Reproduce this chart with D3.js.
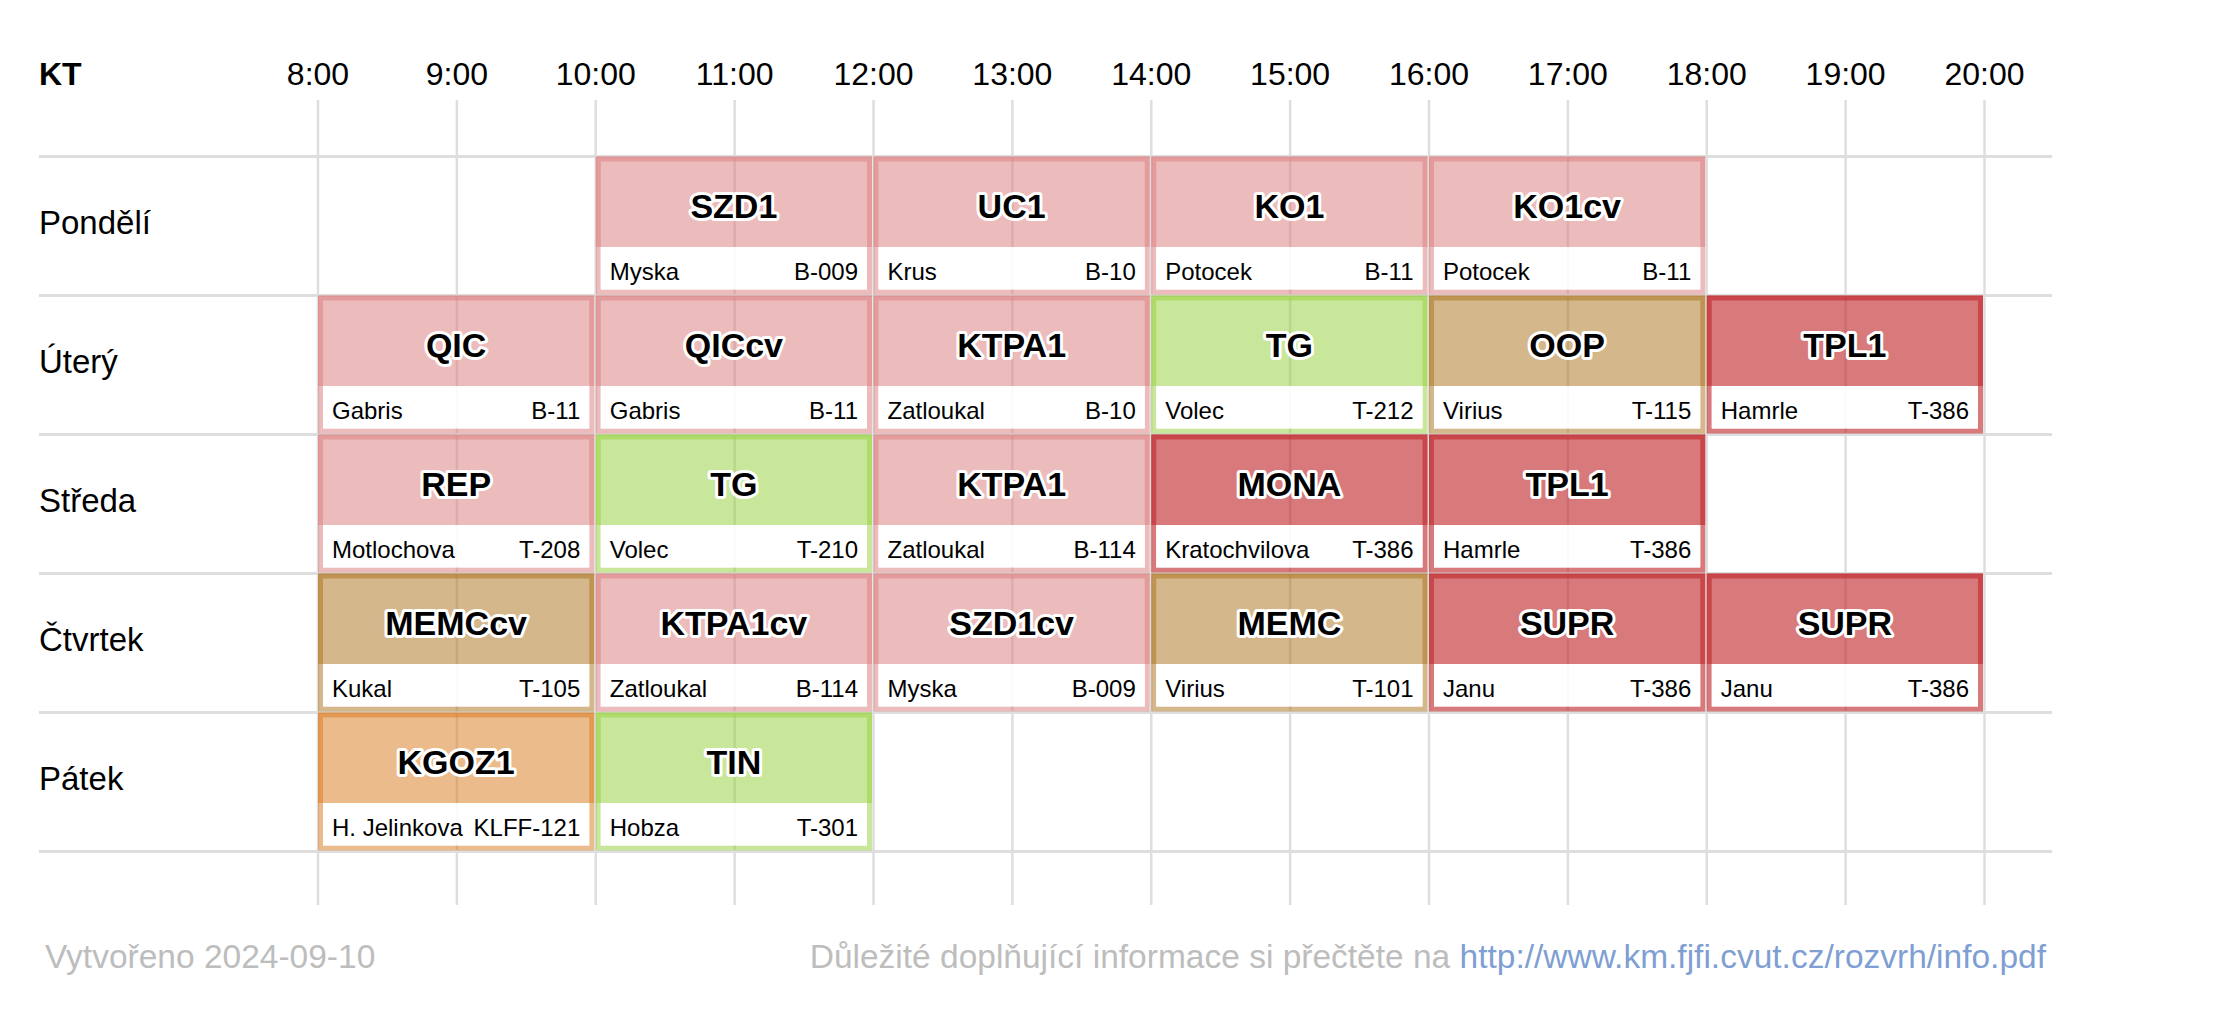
<!DOCTYPE html>
<html>
<head>
<meta charset="utf-8">
<script src="https://cdn.jsdelivr.net/npm/d3@7"></script>
<style>
  html, body { margin: 0; padding: 0; background: #ffffff; }
  svg { display: block; font-family: "Liberation Sans", Arial, Helvetica, sans-serif; }
</style>
</head>
<body>
<svg id="chart" width="2222" height="1011"></svg>
<script>
// ---- data ----
const cornerLabel = "KT";
const days = ["Pondělí", "Úterý", "Středa", "Čtvrtek", "Pátek"];
const hours = [8, 9, 10, 11, 12, 13, 14, 15, 16, 17, 18, 19, 20];
const hourLabels = ["8:00", "9:00", "10:00", "11:00", "12:00", "13:00", "14:00", "15:00", "16:00", "17:00", "18:00", "19:00", "20:00"];

const courseCode    = ["SZD1", "UC1", "KO1", "KO1cv",
                       "QIC", "QICcv", "KTPA1", "TG", "OOP", "TPL1",
                       "REP", "TG", "KTPA1", "MONA", "TPL1",
                       "MEMCcv", "KTPA1cv", "SZD1cv", "MEMC", "SUPR", "SUPR",
                       "KGOZ1", "TIN"];
const courseDay     = [0, 0, 0, 0,
                       1, 1, 1, 1, 1, 1,
                       2, 2, 2, 2, 2,
                       3, 3, 3, 3, 3, 3,
                       4, 4];
const courseStart   = [10, 12, 14, 16,
                       8, 10, 12, 14, 16, 18,
                       8, 10, 12, 14, 16,
                       8, 10, 12, 14, 16, 18,
                       8, 10];
const courseEnd     = [12, 14, 16, 18,
                       10, 12, 14, 16, 18, 20,
                       10, 12, 14, 16, 18,
                       10, 12, 14, 16, 18, 20,
                       10, 12];
const courseTeacher = ["Myska", "Krus", "Potocek", "Potocek",
                       "Gabris", "Gabris", "Zatloukal", "Volec", "Virius", "Hamrle",
                       "Motlochova", "Volec", "Zatloukal", "Kratochvilova", "Hamrle",
                       "Kukal", "Zatloukal", "Myska", "Virius", "Janu", "Janu",
                       "H. Jelinkova", "Hobza"];
const courseRoom    = ["B-009", "B-10", "B-11", "B-11",
                       "B-11", "B-11", "B-10", "T-212", "T-115", "T-386",
                       "T-208", "T-210", "B-114", "T-386", "T-386",
                       "T-105", "B-114", "B-009", "T-101", "T-386", "T-386",
                       "KLFF-121", "T-301"];
const courseKind    = ["pink", "pink", "pink", "pink",
                       "pink", "pink", "pink", "green", "tan", "red",
                       "pink", "green", "pink", "red", "red",
                       "tan", "pink", "pink", "tan", "red", "red",
                       "orange", "green"];

const kinds = ["pink", "green", "tan", "red", "orange"];
const kindColors = ["#d9797b", "#93cf37", "#ad7420", "#c0282b", "#d97719"];
const kindAlpha = [0.5, 0.5, 0.52, 0.62, 0.5];

const footerLeft = "Vytvořeno 2024-09-10";
const footerRight = "Důležité doplňující informace si přečtěte na ";
const footerLink = "http://www.km.fjfi.cvut.cz/rozvrh/info.pdf";

// ---- layout ----
const svg = d3.select("#chart");
const x = d3.scaleLinear().domain([8, 20]).range([318, 1984.5]);
const rowTop = 156.5, rowH = 139;
const y = d3.scaleBand().domain(d3.range(days.length)).range([rowTop, rowTop + rowH * days.length]).paddingInner(0).paddingOuter(0);
const color = d3.scaleOrdinal().domain(kinds).range(kindColors);
const opac = d3.scaleOrdinal().domain(kinds).range(kindAlpha);
const gridColor = "#dedede";
const bw = 5; // border width
const bandH = 90.5;

// horizontal grid lines
const hLines = d3.range(days.length + 1);
svg.append("g").selectAll("line").data(hLines).join("line")
  .attr("x1", 39).attr("x2", 2052)
  .attr("y1", d => rowTop + d * y.bandwidth())
  .attr("y2", d => rowTop + d * y.bandwidth())
  .attr("stroke", gridColor).attr("stroke-width", 3);

// vertical grid lines
svg.append("g").selectAll("line").data(hours).join("line")
  .attr("x1", d => x(d)).attr("x2", d => x(d))
  .attr("y1", 100).attr("y2", 905)
  .attr("stroke", gridColor).attr("stroke-width", 2.5);

// header
svg.append("text").attr("x", 39).attr("y", 85)
  .attr("font-size", 32).attr("font-weight", "bold").attr("fill", "#000")
  .text(cornerLabel);
svg.append("g").selectAll("text").data(hours).join("text")
  .attr("x", d => x(d)).attr("y", 85)
  .attr("text-anchor", "middle").attr("font-size", 32).attr("fill", "#000")
  .text((d, i) => hourLabels[i]);

// day labels
svg.append("g").selectAll("text").data(days).join("text")
  .attr("x", 39).attr("y", (d, i) => y(i) + 77)
  .attr("font-size", 33).attr("fill", "#000")
  .text(d => d);

// courses
const idx = d3.range(courseCode.length);
const boxes = svg.append("g").selectAll("g").data(idx).join("g")
  .attr("transform", i => `translate(${x(courseStart[i])},${y(courseDay[i])})`);

const bx = i => x(courseEnd[i]) - x(courseStart[i]) - 1.5;
const bh = rowH - 1;

// top colored band
boxes.append("rect")
  .attr("x", 0).attr("y", 0)
  .attr("width", i => bx(i)).attr("height", bandH)
  .attr("fill", i => color(courseKind[i])).attr("fill-opacity", i => opac(courseKind[i]));
// border (semi-transparent)
boxes.append("rect")
  .attr("x", bw / 2).attr("y", bw / 2)
  .attr("width", i => bx(i) - bw).attr("height", bh - bw)
  .attr("fill", "none")
  .attr("stroke", i => color(courseKind[i])).attr("stroke-opacity", i => opac(courseKind[i]))
  .attr("stroke-width", bw);
// white info area
boxes.append("rect")
  .attr("x", bw).attr("y", bandH)
  .attr("width", i => bx(i) - 2 * bw).attr("height", bh - bandH - bw)
  .attr("fill", "#fff").attr("fill-opacity", 0.88);

// title with halo
boxes.append("text")
  .attr("x", i => bx(i) / 2).attr("y", 61)
  .attr("text-anchor", "middle").attr("font-size", 34).attr("font-weight", "bold")
  .attr("fill", "#000").attr("stroke", "#fff").attr("stroke-width", 6)
  .attr("stroke-linejoin", "round").attr("paint-order", "stroke")
  .text(i => courseCode[i]);

boxes.append("text")
  .attr("x", 14).attr("y", 123.5)
  .attr("font-size", 24).attr("fill", "#000")
  .text(i => courseTeacher[i]);
boxes.append("text")
  .attr("x", i => bx(i) - 14).attr("y", 123.5)
  .attr("text-anchor", "end").attr("font-size", 24).attr("fill", "#000")
  .text(i => courseRoom[i]);

// footer
svg.append("text").attr("x", 45).attr("y", 968)
  .attr("font-size", 33.5).attr("fill", "#bdbdbd")
  .text(footerLeft);
const fr = svg.append("text").attr("x", 2046).attr("y", 968)
  .attr("text-anchor", "end").attr("font-size", 33.5).attr("fill", "#bdbdbd");
fr.append("tspan").text(footerRight);
fr.append("tspan").attr("fill", "#7f9fd3").text(footerLink);
</script>
</body>
</html>
